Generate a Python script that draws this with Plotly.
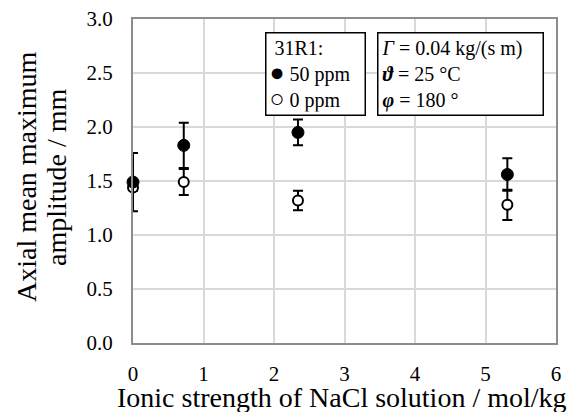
import plotly.graph_objects as go

# Data
ionic_strength = [0, 0.72, 2.34, 5.31]
amp_50ppm = [1.49, 1.83, 1.95, 1.56]
err_50ppm = [0.27, 0.21, 0.12, 0.15]
amp_0ppm = [1.44, 1.49, 1.32, 1.28]
err_0ppm = [0.03, 0.12, 0.09, 0.14]

x_ticks = [0, 1, 2, 3, 4, 5, 6]
y_ticks = [0.0, 0.5, 1.0, 1.5, 2.0, 2.5, 3.0]

x_title = "Ionic strength of NaCl solution / mol/kg"
y_title_lines = ["Axial mean maximum", "amplitude / mm"]
legend_title = "31R1:"
series_names = ["50 ppm", "0 ppm"]

FONT = "Liberation Serif"

fig = go.Figure()

fig.add_trace(go.Scatter(
    x=ionic_strength, y=amp_0ppm, mode="markers", name=series_names[1],
    showlegend=False,
    marker=dict(symbol="circle", size=10, color="white",
                line=dict(color="black", width=2)),
    error_y=dict(type="data", array=err_0ppm, visible=True,
                 color="black", thickness=2, width=5),
    cliponaxis=False,
))
fig.add_trace(go.Scatter(
    x=ionic_strength, y=amp_50ppm, mode="markers", name=series_names[0],
    showlegend=False,
    marker=dict(symbol="circle", size=12, color="black",
                line=dict(color="black", width=1)),
    error_y=dict(type="data", array=err_50ppm, visible=True,
                 color="black", thickness=2, width=5),
    cliponaxis=False,
))

L, R, T, B = 133, 12, 19, 69
W, H = 568, 412
pw, ph = W - L - R, H - T - B

def px_x(px):
    return (px - L) / pw

def px_y(py):
    return (H - B - py) / ph

# legend box (as annotation)
sym = '<span style="font-size:25px">{}</span>'
fig.add_annotation(
    xref="paper", yref="paper",
    x=px_x(265), y=px_y(32), xanchor="left", yanchor="top",
    text=(f"&nbsp;{legend_title}<br>" + sym.format("●") + f"&nbsp;{series_names[0]}"
          "<br>" + sym.format("○") + f"&nbsp;{series_names[1]}"),
    align="left", showarrow=False,
    font=dict(family=FONT, size=20, color="black"),
    bordercolor="black", borderwidth=1.5, borderpad=3,
    bgcolor="white", width=92,
)

# condition box
fig.add_annotation(
    xref="paper", yref="paper",
    x=px_x(377), y=px_y(32), xanchor="left", yanchor="top",
    text="<i>Γ</i> = 0.04 kg/(s m)<br><b><i>ϑ</i></b> = 25 °C<br><b><i>φ</i></b> = 180 °",
    align="left", showarrow=False,
    font=dict(family=FONT, size=20, color="black"),
    bordercolor="black", borderwidth=1.5, borderpad=3,
    bgcolor="white", width=158,
)

# axis titles
fig.add_annotation(
    xref="paper", yref="paper", x=0.495, y=px_y(397),
    xanchor="center", yanchor="middle", showarrow=False,
    text=x_title, font=dict(family=FONT, size=28, color="black"),
)
for cx, line in zip([27, 57], y_title_lines):
    fig.add_annotation(
        xref="paper", yref="paper", x=px_x(cx), y=px_y(177),
        xanchor="center", yanchor="middle", showarrow=False, textangle=-90,
        text=line, font=dict(family=FONT, size=28, color="black"),
    )

fig.update_layout(
    width=W, height=H,
    margin=dict(l=L, r=R, t=T, b=B),
    paper_bgcolor="white", plot_bgcolor="white",
    font=dict(family=FONT, size=21, color="black"),
    showlegend=False,
    xaxis=dict(
        range=[0, 6], tickvals=x_ticks, ticktext=[str(v) for v in x_ticks],
        tickfont=dict(family=FONT, size=21, color="black"),
        showgrid=True, gridcolor="#d9d9d9", gridwidth=1.5,
        showline=True, linecolor="#8c8c8c", linewidth=2, mirror=True,
        zeroline=False, ticks="", ticklabelstandoff=11,
        automargin=False,
    ),
    yaxis=dict(
        range=[0, 3], tickvals=y_ticks, ticktext=[f"{v:.1f}" for v in y_ticks],
        tickfont=dict(family=FONT, size=21, color="black"),
        showgrid=True, gridcolor="#d9d9d9", gridwidth=1.5,
        showline=True, linecolor="#8c8c8c", linewidth=2, mirror=True,
        zeroline=False, ticks="", ticklabelstandoff=14,
        automargin=False,
    ),
)

fig.write_html("out.html")
